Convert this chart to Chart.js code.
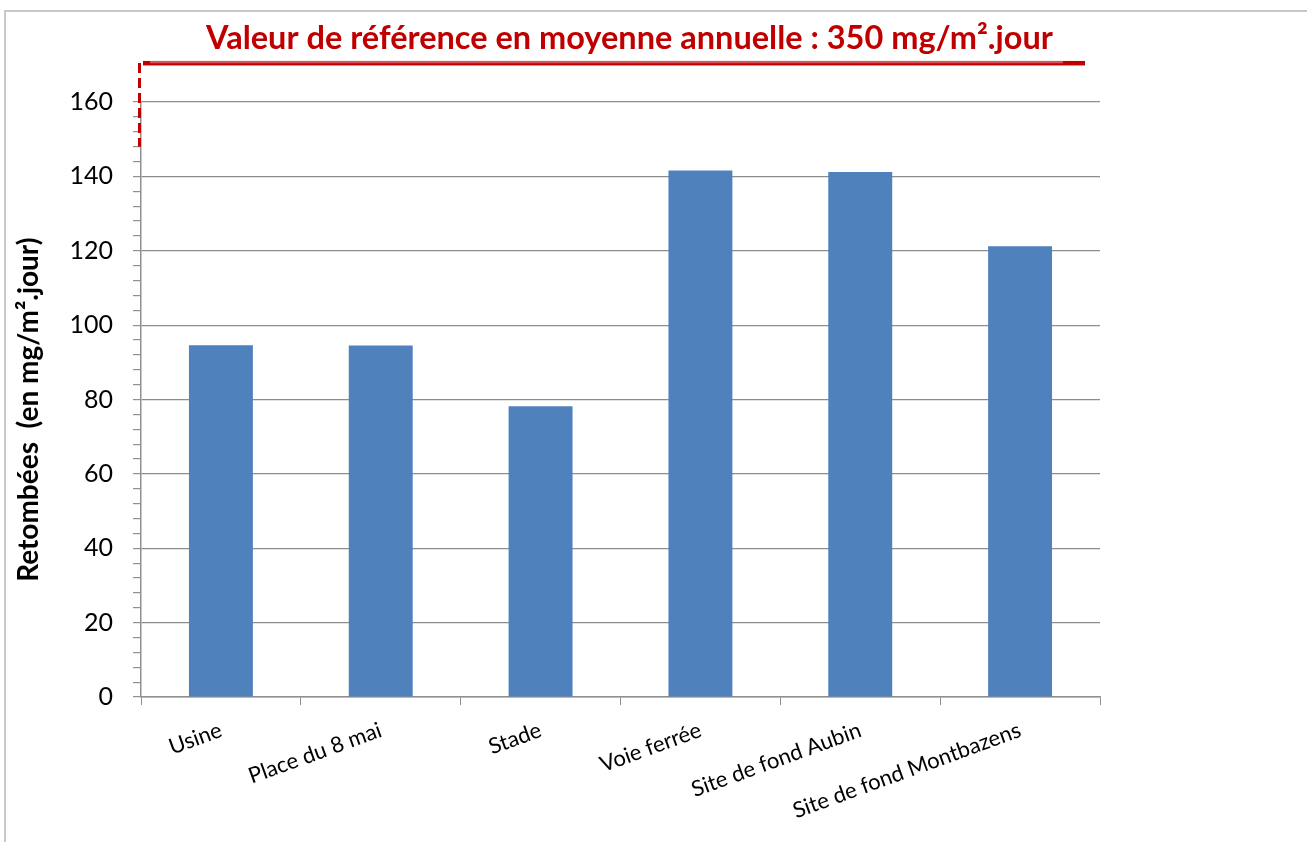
<!DOCTYPE html>
<html>
<head>
<meta charset="utf-8">
<script src="https://cdn.jsdelivr.net/npm/chart.js@4.4.1/dist/chart.umd.min.js"></script>
<style>
  html, body { margin: 0; padding: 0; background: #ffffff; }
  #wrap { width: 1307px; height: 842px; position: relative; }
</style>
</head>
<body>
<div id="wrap"><canvas id="c" width="1307" height="842"></canvas></div>
<script>
const categories = ["Usine", "Place du 8 mai", "Stade", "Voie ferrée", "Site de fond Aubin", "Site de fond Montbazens"];
const values = [94.6, 94.5, 78.2, 141.6, 141.2, 121.2];
const yMin = 0;
const yMax = 160;
const yMajorStep = 20;
const yMinorStep = 4;
const titleText = "Valeur de référence en moyenne annuelle : 350 mg/m².jour";
const yAxisTitle = "Retombées  (en mg/m².jour)\u00a0\u00a0\u00a0";
const refBreakTop = 170.5;
const refBreakBottom = 148;

const FONT = "Lato, 'Open Sans', 'Liberation Sans', sans-serif";

const decor = {
  id: 'decor',
  beforeDraw(chart) {
    const ctx = chart.ctx;
    ctx.save();
    ctx.fillStyle = '#ffffff';
    ctx.fillRect(0, 0, chart.width, chart.height);
    ctx.strokeStyle = '#c8c8c8';
    ctx.lineWidth = 2;
    ctx.strokeRect(5, 11, chart.width + 10, chart.height + 10);
    ctx.restore();
  },
  afterDraw(chart) {
    const ctx = chart.ctx;
    const ca = chart.chartArea;
    const y = chart.scales.y;
    const yTop = y.getPixelForValue(refBreakTop);
    const yBot = y.getPixelForValue(refBreakBottom);
    ctx.save();
    // title
    ctx.fillStyle = '#c00000';
    ctx.font = "bold 32.5px " + FONT;
    ctx.textAlign = 'center';
    ctx.textBaseline = 'middle';
    ctx.fillText(titleText, (ca.left + ca.right) / 2 + 9, yTop - 24);
    // horizontal reference bar
    ctx.fillStyle = '#c00000';
    ctx.fillRect(ca.left + 2, yTop - 2, ca.right - 15 - (ca.left + 2), 4.5);
    ctx.fillStyle = '#d4545a';
    ctx.fillRect(ca.left + 9, yTop - 2, ca.right - 37 - (ca.left + 9), 2.3);
    // dashed vertical
    ctx.strokeStyle = '#c00000';
    ctx.lineWidth = 3;
    ctx.setLineDash([10, 5]);
    ctx.beginPath();
    ctx.moveTo(ca.left - 1.5, yTop);
    ctx.lineTo(ca.left - 1.5, yBot);
    ctx.stroke();
    ctx.restore();
  }
};

new Chart(document.getElementById('c'), {
  type: 'bar',
  data: {
    labels: categories,
    datasets: [{
      data: values,
      backgroundColor: '#4f81bd',
      borderWidth: 0,
      categoryPercentage: 1.0,
      barPercentage: 0.4
    }]
  },
  options: {
    responsive: false,
    animation: false,
    devicePixelRatio: 1,
    layout: { padding: { top: 102, right: 207, bottom: 0, left: 0 } },
    plugins: {
      legend: { display: false },
      title: { display: false },
      tooltip: { enabled: false }
    },
    scales: {
      x: {
        grid: {
          offset: true,
          drawOnChartArea: false,
          drawTicks: true,
          tickLength: 8,
          color: '#909090',
          tickColor: '#909090'
        },
        border: { color: '#909090', width: 1.5 },
        ticks: {
          color: '#000000',
          font: { family: FONT, size: 22 },
          minRotation: 20,
          maxRotation: 20,
          padding: 12,
          autoSkip: false
        },
        afterFit(scale) { scale.height = 145; }
      },
      y: {
        min: yMin,
        max: yMax,
        ticks: {
          stepSize: yMinorStep,
          autoSkip: false,
          color: '#000000',
          font: { family: FONT, size: 25 },
          padding: 20,
          callback: (v) => (v % yMajorStep === 0 ? String(v) : '')
        },
        grid: {
          color: (c) => (c.tick && c.tick.value % yMajorStep === 0 ? '#8c8c8c' : 'rgba(0,0,0,0)'),
          lineWidth: 1.2,
          tickColor: '#909090',
          tickLength: 8,
          drawTicks: true
        },
        border: { color: '#909090', width: 1.5 },
        title: {
          display: true,
          text: yAxisTitle,
          color: '#000000',
          font: { family: FONT, size: 28, weight: 'bold' },
          padding: { top: 12, bottom: 0 }
        },
        afterFit(scale) { scale.width = 141; }
      }
    }
  },
  plugins: [decor]
});
</script>
</body>
</html>
